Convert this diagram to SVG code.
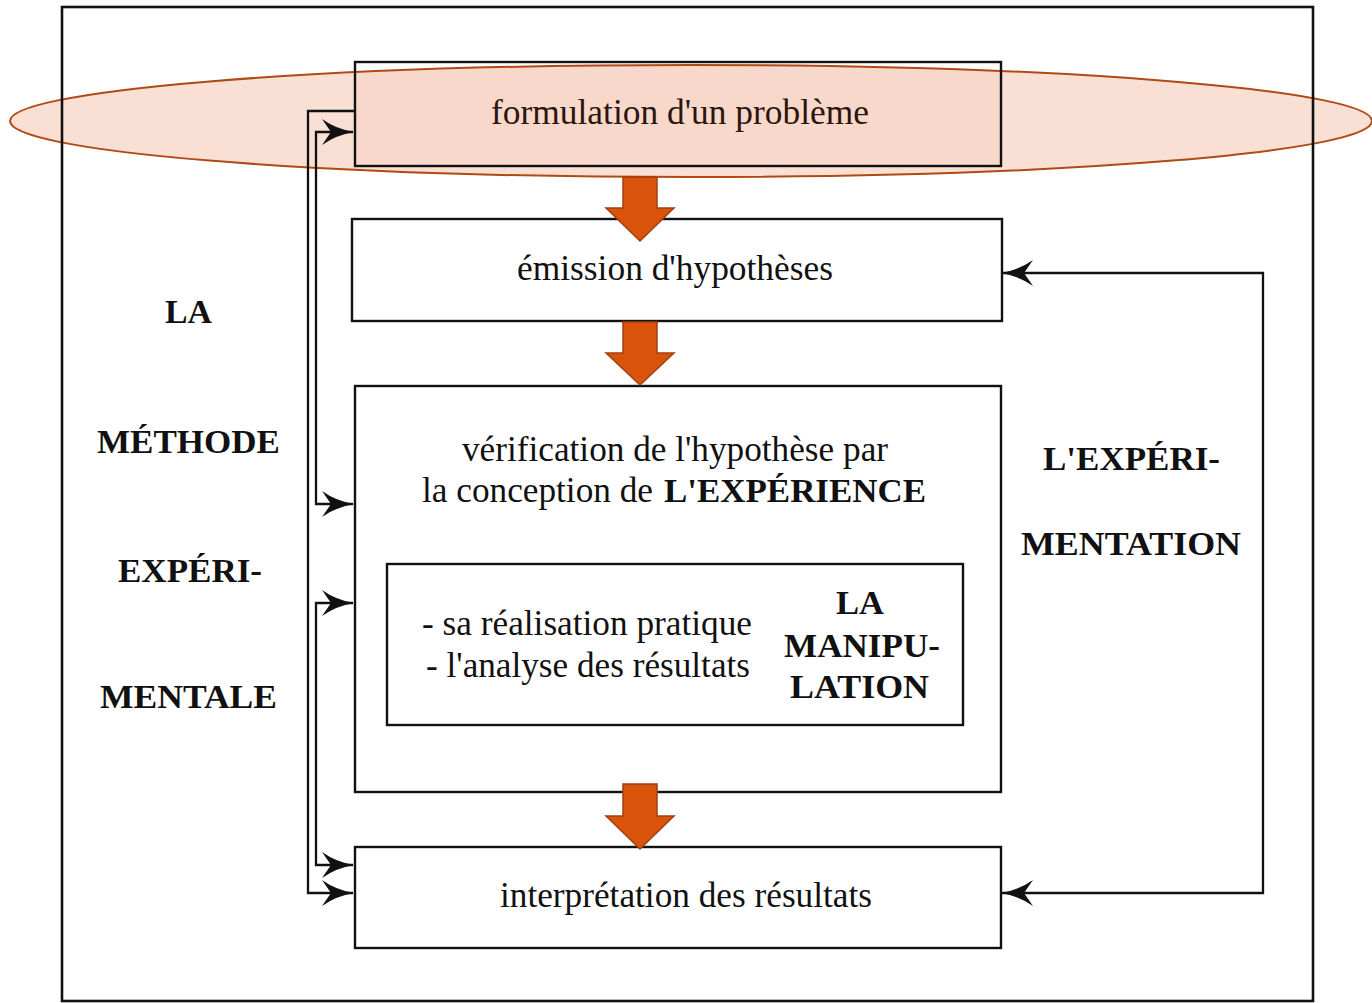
<svg xmlns="http://www.w3.org/2000/svg" width="1372" height="1003" viewBox="0 0 1372 1003">
<style>
.box{fill:none;stroke:#111;stroke-width:2.4}
.frame{fill:none;stroke:#111;stroke-width:2.6}
.con{fill:none;stroke:#111;stroke-width:2.3}
.big{fill:#d9530b;stroke:#a3400f;stroke-width:1.5}
.t{font-family:"Liberation Serif","Times New Roman",serif;font-size:36px;fill:#111}
.b{font-family:"Liberation Serif","Times New Roman",serif;font-size:34px;font-weight:bold;fill:#111}
</style>
<defs>
<marker id="ah" markerUnits="userSpaceOnUse" viewBox="0 0 32 26" markerWidth="32" markerHeight="26" refX="31" refY="13" orient="auto-start-reverse">
<path d="M0,0 Q14,10 32,13 Q14,16 0,26 L9,13 Z" fill="#111"/>
</marker>
<clipPath id="ellclip">
<ellipse cx="691" cy="121" rx="681" ry="56"/>
</clipPath>
</defs>
<rect x="0" y="0" width="1372" height="1003" fill="#fff"/>
<g id="highlight">
<ellipse cx="691" cy="121" rx="681" ry="56" fill="#f9dfd4"/>
<rect x="356" y="62" width="644" height="103" fill="#f7d8cb" clip-path="url(#ellclip)"/>
<ellipse cx="691" cy="121" rx="681" ry="56" fill="none" stroke="#b04a14" stroke-width="2"/>
</g>
<g id="frame">
<rect class="frame" x="62" y="7" width="1251" height="994"/>
</g>
<g id="formulation">
<rect class="box" x="355" y="62" width="646" height="104"/>
<text class="t" x="491" y="124" textLength="378" lengthAdjust="spacingAndGlyphs" style="fill:#2b150c">formulation d'un problème</text>
</g>
<g id="emission">
<rect class="box" x="352" y="219" width="650" height="102"/>
<text class="t" x="517" y="280" textLength="316" lengthAdjust="spacingAndGlyphs">émission d'hypothèses</text>
</g>
<g id="verification">
<rect class="box" x="355" y="386" width="646" height="406"/>
<text class="t" x="462" y="461" textLength="426" lengthAdjust="spacingAndGlyphs">vérification de l'hypothèse par</text>
<text class="t" x="422" y="502" textLength="231" lengthAdjust="spacingAndGlyphs">la conception de</text>
<text class="b" x="664" y="502" textLength="262" lengthAdjust="spacingAndGlyphs">L'EXPÉRIENCE</text>
</g>
<g id="manipulation">
<rect class="box" x="387" y="564" width="576" height="161"/>
<text class="t" x="422" y="635" textLength="330" lengthAdjust="spacingAndGlyphs">- sa réalisation pratique</text>
<text class="t" x="426" y="677" textLength="324" lengthAdjust="spacingAndGlyphs">- l'analyse des résultats</text>
<text class="b" x="836" y="614" textLength="48" lengthAdjust="spacingAndGlyphs">LA</text>
<text class="b" x="784" y="657" textLength="156" lengthAdjust="spacingAndGlyphs">MANIPU-</text>
<text class="b" x="790" y="698" textLength="139" lengthAdjust="spacingAndGlyphs">LATION</text>
</g>
<g id="interpretation">
<rect class="box" x="355" y="847" width="646" height="101"/>
<text class="t" x="500" y="907" textLength="372" lengthAdjust="spacingAndGlyphs">interprétation des résultats</text>
</g>
<g id="label-left">
<text class="b" x="165" y="323" textLength="47" lengthAdjust="spacingAndGlyphs">LA</text>
<text class="b" x="97" y="453" textLength="183" lengthAdjust="spacingAndGlyphs">MÉTHODE</text>
<text class="b" x="118" y="582" textLength="144" lengthAdjust="spacingAndGlyphs">EXPÉRI-</text>
<text class="b" x="100" y="708" textLength="177" lengthAdjust="spacingAndGlyphs">MENTALE</text>
</g>
<g id="label-right">
<text class="b" x="1043" y="470" textLength="177" lengthAdjust="spacingAndGlyphs">L'EXPÉRI-</text>
<text class="b" x="1021" y="555" textLength="220" lengthAdjust="spacingAndGlyphs">MENTATION</text>
</g>
<g id="connectors">
<path class="con" d="M355,111 H308 V893 H353" marker-end="url(#ah)"/>
<path class="con" d="M353,132 H316 V504 H353" marker-start="url(#ah)" marker-end="url(#ah)"/>
<path class="con" d="M353,603 H316 V865 H353" marker-start="url(#ah)" marker-end="url(#ah)"/>
<path class="con" d="M1002,273 H1263 V893 H1002" marker-start="url(#ah)" marker-end="url(#ah)"/>
<path class="big" d="M623,177 H657 V208 H674 L640,241 L606,208 H623 Z"/>
<path class="big" d="M623,322 H657 V353 H674 L640,385 L606,353 H623 Z"/>
<path class="big" d="M623,784 H657 V816 H674 L640,849 L606,816 H623 Z"/>
</g>
</svg>
